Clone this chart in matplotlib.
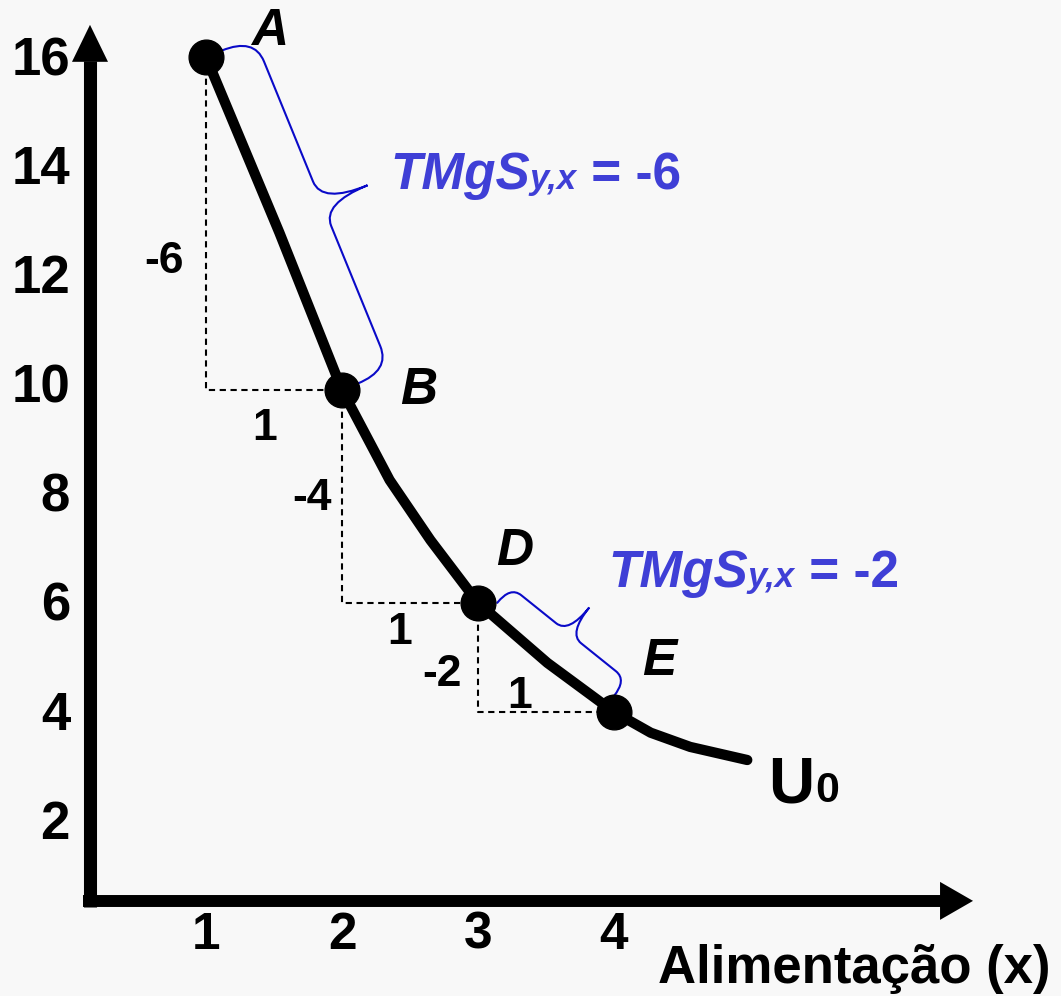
import matplotlib
matplotlib.use("Agg")
import matplotlib.pyplot as plt
from matplotlib.path import Path
from matplotlib.patches import PathPatch, Polygon
import numpy as np

# ---------------- data ----------------
curve_x = [1.0, 1.54, 2.0, 2.35, 2.65, 3.0, 3.51, 4.0, 4.27, 4.56, 4.98]
curve_y = [16.0, 12.78, 9.9, 8.25, 7.15, 6.0, 4.9, 4.0, 3.62, 3.36, 3.12]

point_names = ["A", "B", "D", "E"]
point_x = [1, 2, 3, 4]
point_y = [16, 9.9, 6, 4]

x_ticks = [1, 2, 3, 4]
y_ticks = [2, 4, 6, 8, 10, 12, 14, 16]

step_dy_labels = ["-6", "-4", "-2"]
step_dx_labels = ["1", "1", "1"]

mrs_labels = ["-6", "-2"]
curve_label = ("U", "0")
x_label = "Alimentação (x)"

# ---------------- style / layout ----------------
BG = "#f8f8f8"
BLUE_TXT = "#3f3fd6"
BLUE_BRACE = "#0a0ac8"
FONT = "Liberation Sans"

SX = 136.0    # px per x unit
SY = 54.58    # px per y unit
XMIN, XMAX = -70 / SX, (1061 - 70) / SX
YMIN, YMAX = (930.3 - 996) / SY, 930.3 / SY


def dx(px):
    return px / SX


def dy(px):
    return px / SY


fig = plt.figure(figsize=(10.61, 9.96), dpi=100)
fig.patch.set_facecolor(BG)
ax = fig.add_axes([0, 0, 1, 1])
ax.set_facecolor(BG)
ax.set_xlim(XMIN, XMAX)
ax.set_ylim(YMIN, YMAX)
ax.axis("off")

# ---------------- axes with arrows ----------------
AX_X0 = 0.147
AX_Y0 = 0.539
Y_TIP = 16.59
X_TIP = 6.64
ax.plot([AX_X0, AX_X0], [AX_Y0 - dy(6), Y_TIP - dy(36)], color="black",
        lw=9.4, solid_capstyle="butt", zorder=3)
ax.add_patch(Polygon([(AX_X0 - dx(18), Y_TIP - dy(37)),
                      (AX_X0 + dx(18), Y_TIP - dy(37)),
                      (AX_X0, Y_TIP)], closed=True, fc="black", ec="none", zorder=3))
ax.plot([AX_X0 - dx(7), X_TIP - dx(32)], [AX_Y0, AX_Y0], color="black",
        lw=8.6, solid_capstyle="butt", zorder=3)
ax.add_patch(Polygon([(X_TIP - dx(33), AX_Y0 + dy(19)),
                      (X_TIP - dx(33), AX_Y0 - dy(19)),
                      (X_TIP, AX_Y0)], closed=True, fc="black", ec="none", zorder=3))

# tick labels
for v in y_ticks:
    ax.text(0.0, v - 0.33, str(v), ha="right", va="baseline", fontsize=38,
            fontweight="bold", family=FONT, color="black")
for v in x_ticks:
    ax.text(v, -0.34, str(v), ha="center", va="baseline", fontsize=37,
            fontweight="bold", family=FONT, color="black")
ax.text(4.32, -0.97, x_label, ha="left", va="baseline", fontsize=38,
        fontweight="bold", family=FONT, color="black")

# ---------------- dashed step triangles ----------------
for i in range(len(point_x) - 1):
    x0, y0 = point_x[i], point_y[i]
    x1, y1 = point_x[i + 1], point_y[i + 1]
    ax.plot([x0, x0, x1], [y0, y1, y1], color="black", lw=1.5,
            dashes=(3, 2.2), zorder=2)

# step labels
step_dy_pos = [(0.688, 12.33), (1.779, 8.0), (2.735, 4.77)]
step_dx_pos = [(1.434, 9.28), (2.426, 5.54), (3.309, 4.37)]
for s, (x, y) in zip(step_dy_labels, step_dy_pos):
    ax.text(x, y, s, ha="center", va="center_baseline", fontsize=32,
            fontweight="bold", family=FONT, color="black")
for s, (x, y) in zip(step_dx_labels, step_dx_pos):
    ax.text(x, y, s, ha="center", va="center_baseline", fontsize=32,
            fontweight="bold", family=FONT, color="black")

# ---------------- indifference curve ----------------
ax.plot(curve_x, curve_y, color="black", lw=7.4, solid_capstyle="round",
        solid_joinstyle="round", zorder=4)
ax.plot(point_x, point_y, "o", color="black", markersize=25, zorder=5)

# point labels
label_pos = [(1.47, 16.22), (2.565, 9.64), (3.27, 6.69), (4.33, 4.67)]
for s, (x, y) in zip(point_names, label_pos):
    ax.text(x, y, s, ha="center", va="baseline", fontsize=37,
            fontweight="bold", fontstyle="italic", family=FONT, color="black")

# U0
renderer = fig.canvas.get_renderer()
tU = ax.text(5.133, 2.35, curve_label[0], ha="left", va="baseline",
             fontsize=46, fontweight="bold", family=FONT, color="black")
bb = tU.get_window_extent(renderer)
xu = ax.transData.inverted().transform((bb.x1, bb.y0))[0]
ax.text(xu + dx(1), 2.35, curve_label[1], ha="left", va="baseline",
        fontsize=31, fontweight="bold", family=FONT, color="black")


# ---------------- braces ----------------
def brace(p1, p2, off, h, t, r, rt, trim1=0.0, trim2=0.0):
    T = ax.transData
    P1 = T.transform(p1)
    P2 = T.transform(p2)
    d = P2 - P1
    u = d / np.hypot(*d)
    n = np.array([-u[1], u[0]])
    S = P1 + u * trim1 + n * off
    E = P2 - u * trim2 + n * off
    L = np.hypot(*(E - S))
    v = (E - S) / L
    m = L / 2
    local = [(0, 0), (0, h), (r, h), (m - rt, h), (m, h), (m, h + t),
             (m, h), (m + rt, h), (L - r, h), (L, h), (L, 0)]
    codes = [Path.MOVETO, Path.CURVE3, Path.CURVE3, Path.LINETO, Path.CURVE3,
             Path.CURVE3, Path.CURVE3, Path.CURVE3, Path.LINETO, Path.CURVE3,
             Path.CURVE3]
    disp = np.array([S + a * v + b * n for a, b in local])
    data = T.inverted().transform(disp)
    ax.add_patch(PathPatch(Path(data, codes), fill=False, ec=BLUE_BRACE,
                           lw=1.5, zorder=3, capstyle="round"))


brace((point_x[0], point_y[0]), (point_x[1], point_y[1]),
      off=17, h=35, t=49, r=26, rt=24)
brace((point_x[2], point_y[2]), (point_x[3], point_y[3]),
      off=12, h=21, t=33, r=14, rt=16, trim1=15, trim2=10)


# ---------------- TMgS labels ----------------
def chain_label(x, y, value):
    parts = [("TMgS", 37, "italic"), ("y,x", 25, "italic"),
             (" = " + value, 37, "normal")]
    for s, size, style in parts:
        t = ax.text(x, y, s, ha="left", va="baseline", fontsize=size,
                    fontstyle=style, fontweight="bold", family=FONT,
                    color=BLUE_TXT, zorder=6)
        b = t.get_window_extent(renderer)
        x = ax.transData.inverted().transform((b.x1, b.y0))[0]


chain_label(2.353, 13.58, mrs_labels[0])
chain_label(3.955, 6.29, mrs_labels[1])

fig.savefig("out.png", dpi=100, facecolor=BG)
